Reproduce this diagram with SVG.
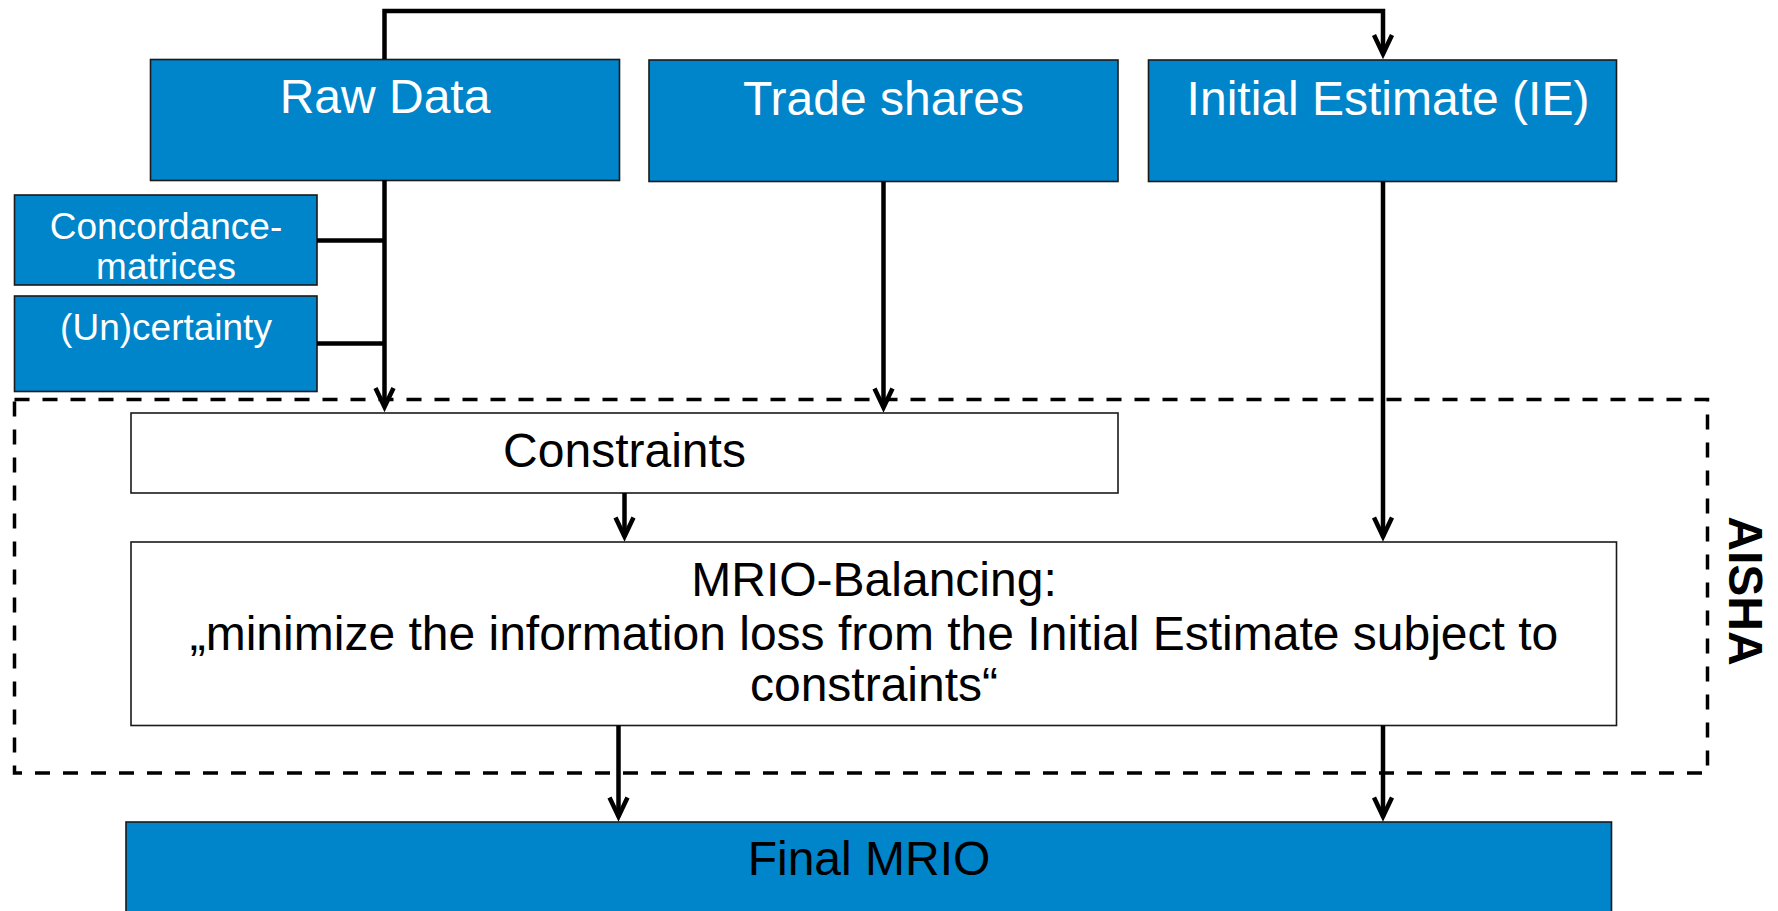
<svg xmlns="http://www.w3.org/2000/svg" width="1778" height="911" viewBox="0 0 1778 911">
  <defs>
    <style>
      .blue { fill: #0084CA; stroke: #1a1a1a; stroke-width: 1.6; }
      .white { fill: #ffffff; stroke: #1a1a1a; stroke-width: 1.6; }
      .t { font-family: "Liberation Sans", Arial, sans-serif; text-anchor: middle; }
      .big { font-size: 48px; }
      .small { font-size: 37px; }
      .wt { fill: #ffffff; }
      .bt { fill: #000000; }
      .conn { fill: none; stroke: #000000; stroke-width: 4.5; }
      .arr { marker-end: url(#ah); }
      .dash { fill: none; stroke: #000000; stroke-width: 3.5; stroke-dasharray: 15 13; }
    </style>
    <marker id="ah" markerUnits="userSpaceOnUse" viewBox="-30 -15 45 30" refX="0" refY="0" markerWidth="45" markerHeight="30" orient="auto" overflow="visible">
      <path d="M-19,-9 L0,0 L-19,9" fill="none" stroke="#000000" stroke-width="4.5" stroke-linejoin="miter" stroke-miterlimit="10"/>
    </marker>
  </defs>

  <g id="aisha-group">
    <rect class="dash" x="14.5" y="399.5" width="1693" height="373.5"/>
    <text class="t" x="0" y="0" font-size="48" font-weight="bold" transform="translate(1729,591) rotate(90)">AISHA</text>
  </g>

  <g id="raw-data">
    <rect class="blue" x="150.5" y="59.5" width="469" height="121"/>
    <text class="t big wt" x="385" y="113">Raw Data</text>
  </g>
  <g id="trade-shares">
    <rect class="blue" x="649" y="60" width="469" height="121.5"/>
    <text class="t big wt" x="883.5" y="115">Trade shares</text>
  </g>
  <g id="initial-estimate">
    <rect class="blue" x="1148.5" y="60" width="468" height="121.5"/>
    <text class="t big wt" x="1388" y="115">Initial Estimate (IE)</text>
  </g>
  <g id="concordance">
    <rect class="blue" x="14.5" y="195" width="302.5" height="90"/>
    <text class="t small wt" x="166" y="239">Concordance-</text>
    <text class="t small wt" x="166" y="279">matrices</text>
  </g>
  <g id="uncertainty">
    <rect class="blue" x="14.5" y="296" width="302.5" height="95.5"/>
    <text class="t small wt" x="166" y="340">(Un)certainty</text>
  </g>
  <g id="constraints">
    <rect class="white" x="131" y="413" width="987" height="80"/>
    <text class="t big bt" x="624.5" y="467">Constraints</text>
  </g>
  <g id="mrio-balancing">
    <rect class="white" x="131" y="542" width="1485.5" height="183.5"/>
    <text class="t big bt" x="874" y="596">MRIO-Balancing:</text>
    <text class="t big bt" x="874" y="650">„minimize the information loss from the Initial Estimate subject to</text>
    <text class="t big bt" x="874" y="701">constraints“</text>
  </g>
  <g id="final-mrio">
    <rect class="blue" x="126" y="822" width="1485.5" height="110"/>
    <text class="t big bt" x="869" y="875">Final MRIO</text>
  </g>

  <g id="connectors">
    <path class="conn arr" d="M384.5,59 V11 H1383 V54"/>
    <path class="conn arr" d="M384.5,180 V407"/>
    <path class="conn" d="M317,240.5 H384.5"/>
    <path class="conn" d="M317,343.5 H384.5"/>
    <path class="conn arr" d="M883.5,181.5 V407.5"/>
    <path class="conn arr" d="M1383,181.5 V536.5"/>
    <path class="conn arr" d="M624.5,493 V536.5"/>
    <path class="conn arr" d="M618.5,725.5 V816.5"/>
    <path class="conn arr" d="M1383,725.5 V816.5"/>
  </g>
</svg>
